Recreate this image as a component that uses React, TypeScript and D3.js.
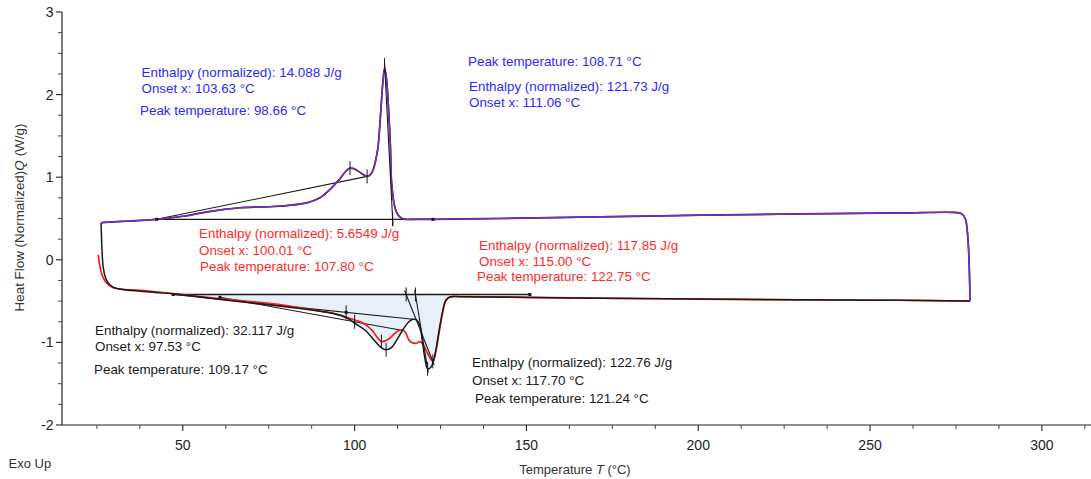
import React from "react";
import * as d3 from "d3";

// DSC thermogram: heat flow vs temperature, heating (top) and cooling (bottom) runs
const WIDTH = 1091;
const HEIGHT = 479;

// Heating run (purple, with a near-identical black run underneath): [T °C, W/g]
const heatingCurve: [number, number][] = [
  [26.2, 0.45], [30, 0.46], [34.6, 0.47], [42.4, 0.49], [50.6, 0.53], [57, 0.58], [62, 0.61],
  [66.6, 0.63], [72, 0.64], [76.2, 0.645], [81, 0.66], [86.1, 0.69], [89.9, 0.75], [92.8, 0.85],
  [95.5, 0.97], [97.2, 1.06], [98.66, 1.11], [100.2, 1.095], [102, 1.045], [103.63, 1.01],
  [104.6, 1.03], [105.4, 1.09], [106.2, 1.22], [106.8, 1.36], [107.5, 1.73], [108.2, 2.14],
  [108.71, 2.32], [109.2, 2.22], [109.6, 2.02], [110, 1.73], [110.4, 1.39], [110.7, 0.97],
  [111.1, 0.79], [111.7, 0.64], [112.7, 0.54], [114.1, 0.495], [118, 0.49], [122.8, 0.49],
  [142.3, 0.5], [171.4, 0.52], [200.5, 0.54], [229.6, 0.555], [258.7, 0.567], [274.5, 0.573],
  [276.5, 0.56], [277.7, 0.5], [278.4, 0.3], [278.8, 0.0], [279.0, -0.3], [279.1, -0.5],
];

// High-temperature part shared by both cooling runs
const coolingTail: [number, number][] = [
  [131, -0.446], [151, -0.455], [171.4, -0.465], [200.5, -0.475], [229.6, -0.485],
  [258.7, -0.49], [279.1, -0.5],
];

// Cooling run, black
const coolingBlack: [number, number][] = [
  [26.2, 0.45], [26.3, 0.32], [26.5, 0.1], [26.8, -0.08], [27.3, -0.19], [27.8, -0.245],
  [28.7, -0.3], [29.7, -0.33], [32.6, -0.36], [37.5, -0.38], [42, -0.395], [47.2, -0.412],
  [53, -0.44], [59.8, -0.475], [69.5, -0.52], [79.2, -0.565], [84.1, -0.59], [88.5, -0.615],
  [92.8, -0.64], [96, -0.675], [98.6, -0.725], [100.1, -0.77], [103, -0.85], [105.6, -0.97],
  [107.6, -1.06], [109.17, -1.09], [110.8, -1.06], [112.3, -0.97], [114, -0.85], [115.8, -0.75],
  [117, -0.72], [118.1, -0.73], [119, -0.8], [119.6, -0.95], [120.4, -1.18], [121.24, -1.32],
  [122.2, -1.3], [123, -1.22], [123.9, -1.03], [124.8, -0.8], [125.7, -0.61], [126.5, -0.49],
  [127.7, -0.45],
];

// Cooling run, red
const coolingRed: [number, number][] = [
  [25.4, 0.06], [25.8, -0.06], [26.3, -0.16], [27, -0.23], [27.8, -0.28], [29, -0.32],
  [30.2, -0.345], [33, -0.36], [37.5, -0.37], [47.1, -0.41], [53, -0.435], [59.8, -0.466],
  [69.5, -0.505], [79.1, -0.547], [89.9, -0.62], [95, -0.66], [98.6, -0.71], [102.4, -0.765],
  [105, -0.85], [106.6, -0.94], [107.8, -0.99], [109, -0.98], [110.2, -0.95], [111.7, -0.89],
  [113.2, -0.85], [114, -0.85], [114.8, -0.88], [115.8, -0.97], [116.6, -1.0], [118, -1.01],
  [119, -0.99], [120, -1.03], [121.3, -1.14], [122.75, -1.23], [123.6, -1.12], [124.3, -0.95],
  [125, -0.78], [125.7, -0.62], [126.5, -0.5], [127.7, -0.45],
];

// Peak evaluation results: top-small, top-main, red-small, red-main, black-small, black-main
const enthalpyValues = [14.088, 121.73, 5.6549, 117.85, 32.117, 122.76];
const onsetValues = [103.63, 111.06, 100.01, 115.0, 97.53, 117.7];
const peakValues = [98.66, 108.71, 107.8, 122.75, 109.17, 121.24];

// Integration baselines
const heatingBaseLevel = 0.49;
const heatingBaseRange = [42.4, 122.8];
const smallHeatBaseline: [number, number][] = [[42.4, 0.49], [103.63, 1.01]];
const coolingBaseLevel = -0.42;
const coolingBaseRange = [47.2, 151];
const blackSmallBaseline: [number, number][] = [[47.2, -0.42], [117.0, -0.72]];
const redSmallBaseline: [number, number][] = [[60.8, -0.455], [113.2, -0.85]];

const xMajorTicks = [50, 100, 150, 200, 250, 300];
const yMajorTicks = [-2, -1, 0, 1, 2, 3];

const FONT = "'Liberation Sans', Arial, Helvetica, sans-serif";
const BLUE = "#2a2aff";
const RED = "#ff2b2b";
const BLACK = "#1a1a1a";
const PURPLE = "#7b2cc4";
const CURVE_RED = "#f01c1c";

function valueAt(curve: [number, number][], t: number): number {
  for (let i = 0; i < curve.length - 1; i++) {
    const [t0, v0] = curve[i];
    const [t1, v1] = curve[i + 1];
    if (t >= t0 && t <= t1) return v0 + ((t - t0) / (t1 - t0)) * (v1 - v0);
  }
  return curve[curve.length - 1][1];
}

function lineValue(seg: [number, number][], t: number): number {
  const [[t0, v0], [t1, v1]] = seg;
  return v0 + ((t - t0) / (t1 - t0)) * (v1 - v0);
}

export default function App() {
  const x = d3.scaleLinear().domain([14.84, 314.3]).range([62, 1091]);
  const y = d3.scaleLinear().domain([-2, 3]).range([425, 12]);

  const blackFull = coolingBlack.concat(coolingTail);
  const redFull = coolingRed.concat(coolingTail);

  const curve = d3
    .line<[number, number]>()
    .x((d) => x(d[0]))
    .y((d) => y(d[1]))
    .curve(d3.curveCatmullRom.alpha(0.5));
  const straight = d3
    .line<[number, number]>()
    .x((d) => x(d[0]))
    .y((d) => y(d[1]));

  // shaded region between the cooling baseline and the black cooling curve
  const shadePts = blackFull.filter((d) => d[0] >= 47.2 && d[0] <= 128);
  const shade = d3
    .area<[number, number]>()
    .x((d) => x(d[0]))
    .y0(() => y(coolingBaseLevel))
    .y1((d) => y(d[1]))
    .curve(d3.curveCatmullRom.alpha(0.5));

  const xMinor = d3.range(25, 314, 12.5).filter((t) => !xMajorTicks.includes(t));
  const yMinor = d3.range(-2, 3.001, 0.25).filter((v) => !yMajorTicks.some((m) => Math.abs(m - v) < 1e-6));

  // tangent lines of the main peaks, from onset on baseline to peak
  const tangent = (t0: number, v0: number, t1: number, v1: number, extStart: number, extEnd: number) => {
    const dt = t1 - t0;
    const dv = v1 - v0;
    return [
      [t0 - dt * extStart, v0 - dv * extStart],
      [t1 + dt * extEnd, v1 + dv * extEnd],
    ] as [number, number][];
  };

  const topPeakV = valueAt(heatingCurve, peakValues[1]);
  const topTangent = tangent(peakValues[1], topPeakV + 0.06, onsetValues[1], heatingBaseLevel, 0, 0.04);
  const redPeakV = valueAt(coolingRed, peakValues[3]);
  const redTangent = tangent(onsetValues[3], coolingBaseLevel, peakValues[3], redPeakV, 0.06, 0.05);
  const blackPeakV = valueAt(coolingBlack, peakValues[5]);
  const blackTangent = tangent(onsetValues[5], coolingBaseLevel, peakValues[5], blackPeakV, 0.06, 0.05);

  // vertical evaluation ticks [T, value]
  const evalTicks: [number, number][] = [
    [peakValues[0], valueAt(heatingCurve, peakValues[0])],
    [onsetValues[0], valueAt(heatingCurve, onsetValues[0])],
    [peakValues[1], topPeakV + 0.04],
    [onsetValues[1], heatingBaseLevel],
    [onsetValues[2], lineValue(redSmallBaseline, onsetValues[2])],
    [peakValues[2], valueAt(coolingRed, peakValues[2])],
    [onsetValues[3], coolingBaseLevel],
    [peakValues[3], redPeakV],
    [onsetValues[4], lineValue(blackSmallBaseline, onsetValues[4])],
    [peakValues[4], valueAt(coolingBlack, peakValues[4])],
    [onsetValues[5], coolingBaseLevel],
    [peakValues[5], blackPeakV],
  ];

  const markers: [number, number][] = [
    [heatingBaseRange[0], heatingBaseLevel],
    [heatingBaseRange[1], heatingBaseLevel],
    [coolingBaseRange[0], coolingBaseLevel],
    [coolingBaseRange[1], coolingBaseLevel],
    [redSmallBaseline[0][0], redSmallBaseline[0][1]],
    [onsetValues[4], lineValue(blackSmallBaseline, onsetValues[4])],
  ];

  // label blocks: colour, index into result arrays, and line placement (x, centre y)
  const labelBlocks = [
    { color: BLUE, i: 0, enth: [141.5, 72], onset: [141.5, 88.5], peak: [140, 110.5] },
    { color: BLUE, i: 1, enth: [469, 86], onset: [469, 102], peak: [468, 61] },
    { color: RED, i: 2, enth: [199, 233.5], onset: [199, 250], peak: [200, 266] },
    { color: RED, i: 3, enth: [479, 245], onset: [479, 261], peak: [477, 276] },
    { color: BLACK, i: 4, enth: [95, 330], onset: [95, 346.5], peak: [94, 369] },
    { color: BLACK, i: 5, enth: [472, 362], onset: [472, 380], peak: [475, 398] },
  ];

  return (
    <svg
      width={WIDTH}
      height={HEIGHT}
      style={{ position: "absolute", left: 0, top: 0, background: "#fff" }}
      fontFamily={FONT}
    >
      {/* shaded integration area */}
      <path d={shade(shadePts) || ""} fill="#dfe9f7" fillOpacity={0.75} stroke="none" />

      {/* baselines */}
      <line
        x1={x(heatingBaseRange[0])}
        x2={x(heatingBaseRange[1])}
        y1={y(heatingBaseLevel)}
        y2={y(heatingBaseLevel)}
        stroke={BLACK}
        strokeWidth={1.2}
      />
      <path d={straight(smallHeatBaseline) || ""} stroke={BLACK} strokeWidth={1.1} fill="none" />
      <line
        x1={x(coolingBaseRange[0])}
        x2={x(coolingBaseRange[1])}
        y1={y(coolingBaseLevel)}
        y2={y(coolingBaseLevel)}
        stroke={BLACK}
        strokeWidth={1.3}
      />
      <path d={straight(blackSmallBaseline) || ""} stroke={BLACK} strokeWidth={1.1} fill="none" />
      <path d={straight(redSmallBaseline) || ""} stroke={BLACK} strokeWidth={1.1} fill="none" />

      {/* measurement curves */}
      <path d={curve(redFull) || ""} stroke={CURVE_RED} strokeWidth={1.7} fill="none" />
      <path d={curve(blackFull) || ""} stroke={BLACK} strokeWidth={1.5} fill="none" />
      <path d={curve(heatingCurve) || ""} stroke={BLACK} strokeWidth={1.7} fill="none" />
      <path d={curve(heatingCurve) || ""} stroke={PURPLE} strokeWidth={1.5} fill="none" />

      {/* tangents */}
      {[topTangent, redTangent, blackTangent].map((seg, k) => (
        <path key={k} d={straight(seg) || ""} stroke={BLACK} strokeWidth={1.1} fill="none" />
      ))}

      {/* evaluation ticks */}
      {evalTicks.map(([t, v], k) => (
        <line key={k} x1={x(t)} x2={x(t)} y1={y(v) - 7} y2={y(v) + 7} stroke={BLACK} strokeWidth={1} />
      ))}
      {markers.map(([t, v], k) => (
        <rect key={k} x={x(t) - 1.5} y={y(v) - 1.5} width={3} height={3} fill={BLACK} />
      ))}

      {/* axes */}
      <line x1={62} x2={62} y1={y(3)} y2={y(-2)} stroke="#222" strokeWidth={1.2} />
      <line x1={62} x2={WIDTH} y1={y(-2)} y2={y(-2)} stroke="#222" strokeWidth={1.2} />
      {yMajorTicks.map((v) => (
        <g key={v}>
          <line x1={56} x2={62} y1={y(v)} y2={y(v)} stroke="#222" strokeWidth={1.1} />
          <text x={53.5} y={y(v) + 5} textAnchor="end" fontSize={14} fill="#222">
            {v}
          </text>
        </g>
      ))}
      {yMinor.map((v) => (
        <line key={v} x1={58} x2={62} y1={y(v)} y2={y(v)} stroke="#444" strokeWidth={1} />
      ))}
      {xMajorTicks.map((t) => (
        <g key={t}>
          <line x1={x(t)} x2={x(t)} y1={425} y2={431} stroke="#222" strokeWidth={1.1} />
          <text x={x(t)} y={450} textAnchor="middle" fontSize={14} fill="#222">
            {t}
          </text>
        </g>
      ))}
      {xMinor.map((t) => (
        <line key={t} x1={x(t)} x2={x(t)} y1={425} y2={429} stroke="#444" strokeWidth={1} />
      ))}

      {/* axis titles */}
      <text
        transform={`translate(24,${217.5}) rotate(-90)`}
        textAnchor="middle"
        fontSize={13.4}
        fill="#333"
      >
        Heat Flow (Normalized)<tspan fontStyle="italic">Q</tspan>
        <tspan dx={4}>(W/g)</tspan>
      </text>
      <text x={575} y={474} textAnchor="middle" fontSize={13} fill="#333">
        Temperature <tspan fontStyle="italic">T</tspan> (°C)
      </text>
      <text x={8.5} y={467.5} fontSize={13} fill="#333">
        Exo Up
      </text>

      {/* evaluation labels */}
      {labelBlocks.map((b) => (
        <g key={b.i} fill={b.color} fontSize={13.4}>
          <text x={b.enth[0]} y={b.enth[1] + 4.7}>
            {`Enthalpy (normalized): ${String(enthalpyValues[b.i])} J/g`}
          </text>
          <text x={b.onset[0]} y={b.onset[1] + 4.7}>
            {`Onset x: ${onsetValues[b.i].toFixed(2)} °C`}
          </text>
          <text x={b.peak[0]} y={b.peak[1] + 4.7}>
            {`Peak temperature: ${peakValues[b.i].toFixed(2)} °C`}
          </text>
        </g>
      ))}
    </svg>
  );
}
